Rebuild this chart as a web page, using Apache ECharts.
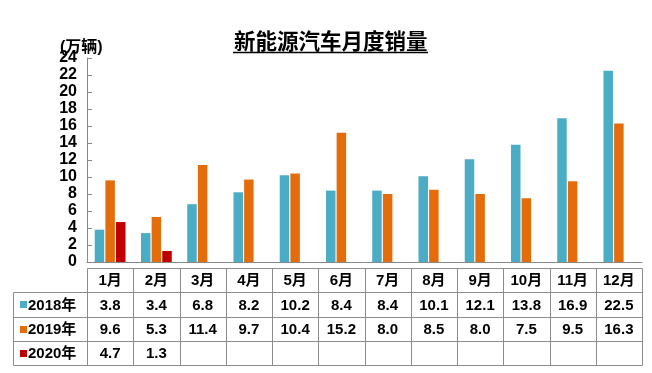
<!DOCTYPE html>
<html><head><meta charset="utf-8">
<script src="https://cdn.jsdelivr.net/npm/echarts@6/dist/echarts.min.js"></script>
<style>html,body{margin:0;padding:0;background:#fff}#c{width:652px;height:373px}</style>
</head><body><div id="c"></div>
<script>
const months = ['1月','2月','3月','4月','5月','6月','7月','8月','9月','10月','11月','12月'];
const seriesNames = ['2018年','2019年','2020年'];
const s2018 = [3.8,3.4,6.8,8.2,10.2,8.4,8.4,10.1,12.1,13.8,16.9,22.5];
const s2019 = [9.6,5.3,11.4,9.7,10.4,15.2,8.0,8.5,8.0,7.5,9.5,16.3];
const s2020 = [4.7,1.3,null,null,null,null,null,null,null,null,null,null];
const colors = ['#4BACC6','#E46C0A','#C00000'];
const titleText = '新能源汽车月度销量';
const unitText = '(万辆)';

const chart = echarts.init(document.getElementById('c'), null, {renderer:'canvas'});
const FONT = '"Liberation Sans", Arial, "Noto Sans CJK SC", sans-serif';
const option = {
  animation:false,
  backgroundColor:'#fff',
  title:[
    {text:titleText,left:229,top:25,textStyle:{fontFamily:'"Noto Sans CJK SC", sans-serif',fontSize:21.5,fontWeight:'bold',color:'#000'}},
    {text:unitText,left:55,top:35,textStyle:{fontFamily:FONT,fontSize:16,fontWeight:'bold',color:'#000'}}
  ],
  grid:{left:87,right:10,top:58,bottom:111,containLabel:false},
  xAxis:{type:'category',data:months,axisLine:{lineStyle:{color:'#888',width:1}},axisTick:{show:false},axisLabel:{show:false}},
  yAxis:{type:'value',min:0,max:24,interval:2,
    axisLine:{show:true,lineStyle:{color:'#888'}},
    axisTick:{show:true,inside:true,length:5,lineStyle:{color:'#888'}},
    splitLine:{show:false},
    axisLabel:{margin:10,fontFamily:FONT,fontSize:16,fontWeight:'bold',color:'#000'}},
  series:[
    {name:seriesNames[0],type:'bar',data:s2018,barWidth:9.5,barGap:'12%',itemStyle:{color:colors[0]}},
    {name:seriesNames[1],type:'bar',data:s2019,barWidth:9.5,barGap:'12%',itemStyle:{color:colors[1]}},
    {name:seriesNames[2],type:'bar',data:s2020,barWidth:9.5,barGap:'12%',itemStyle:{color:colors[2]}}
  ]
};
chart.setOption(option);

function buildTable(){
  const c0 = chart.convertToPixel({xAxisIndex:0},0);
  const c1 = chart.convertToPixel({xAxisIndex:0},1);
  const w = c1-c0;
  const left = c0 - w/2;
  const right = left + months.length*w;
  const y0 = chart.convertToPixel({yAxisIndex:0},0);
  const top = y0 + 6;
  const rowH = 24.3;
  const leftCol = 13;
  const els = [];
  const stroke = {stroke:'#8c8c8c',lineWidth:1};
  const r = v => Math.round(v)+0.5;
  els.push({type:'line',shape:{x1:233,y1:52.5,x2:428,y2:52.5},style:{stroke:'#000',lineWidth:1.5}});
  for(let i=0;i<=4;i++){
    const y = r(top+i*rowH);
    els.push({type:'line',shape:{x1:i===0?r(left):r(leftCol),y1:y,x2:r(right),y2:y},style:stroke});
  }
  for(let k=0;k<=months.length;k++){
    const x = r(left+k*w);
    els.push({type:'line',shape:{x1:x,y1:r(top),x2:x,y2:r(top+4*rowH)},style:stroke});
  }
  els.push({type:'line',shape:{x1:r(leftCol),y1:r(top+rowH),x2:r(leftCol),y2:r(top+4*rowH)},style:stroke});
  const txt = (x,y,t,align)=>({type:'text',x:x,y:y,style:{text:t,fill:'#000',font:'bold 15px '+FONT,align:align||'center',verticalAlign:'middle'}});
  months.forEach((m,k)=>{
    els.push(txt(left+(k+0.5)*w,top+rowH*0.5+1,m));
  });
  const rows = [s2018,s2019,s2020];
  rows.forEach((arr,i)=>{
    const cy = top+rowH*(i+1.5)+1;
    els.push({type:'rect',shape:{x:20,y:Math.round(cy)-4,width:7,height:7},style:{fill:colors[i]}});
    els.push(txt(28,cy,seriesNames[i],'left'));
    arr.forEach((v,k)=>{
      if(v==null) return;
      els.push(txt(left+(k+0.5)*w,cy,v.toFixed(1)));
    });
  });
  chart.setOption({graphic:{elements:els}});
}
buildTable();
</script>
</body></html>
